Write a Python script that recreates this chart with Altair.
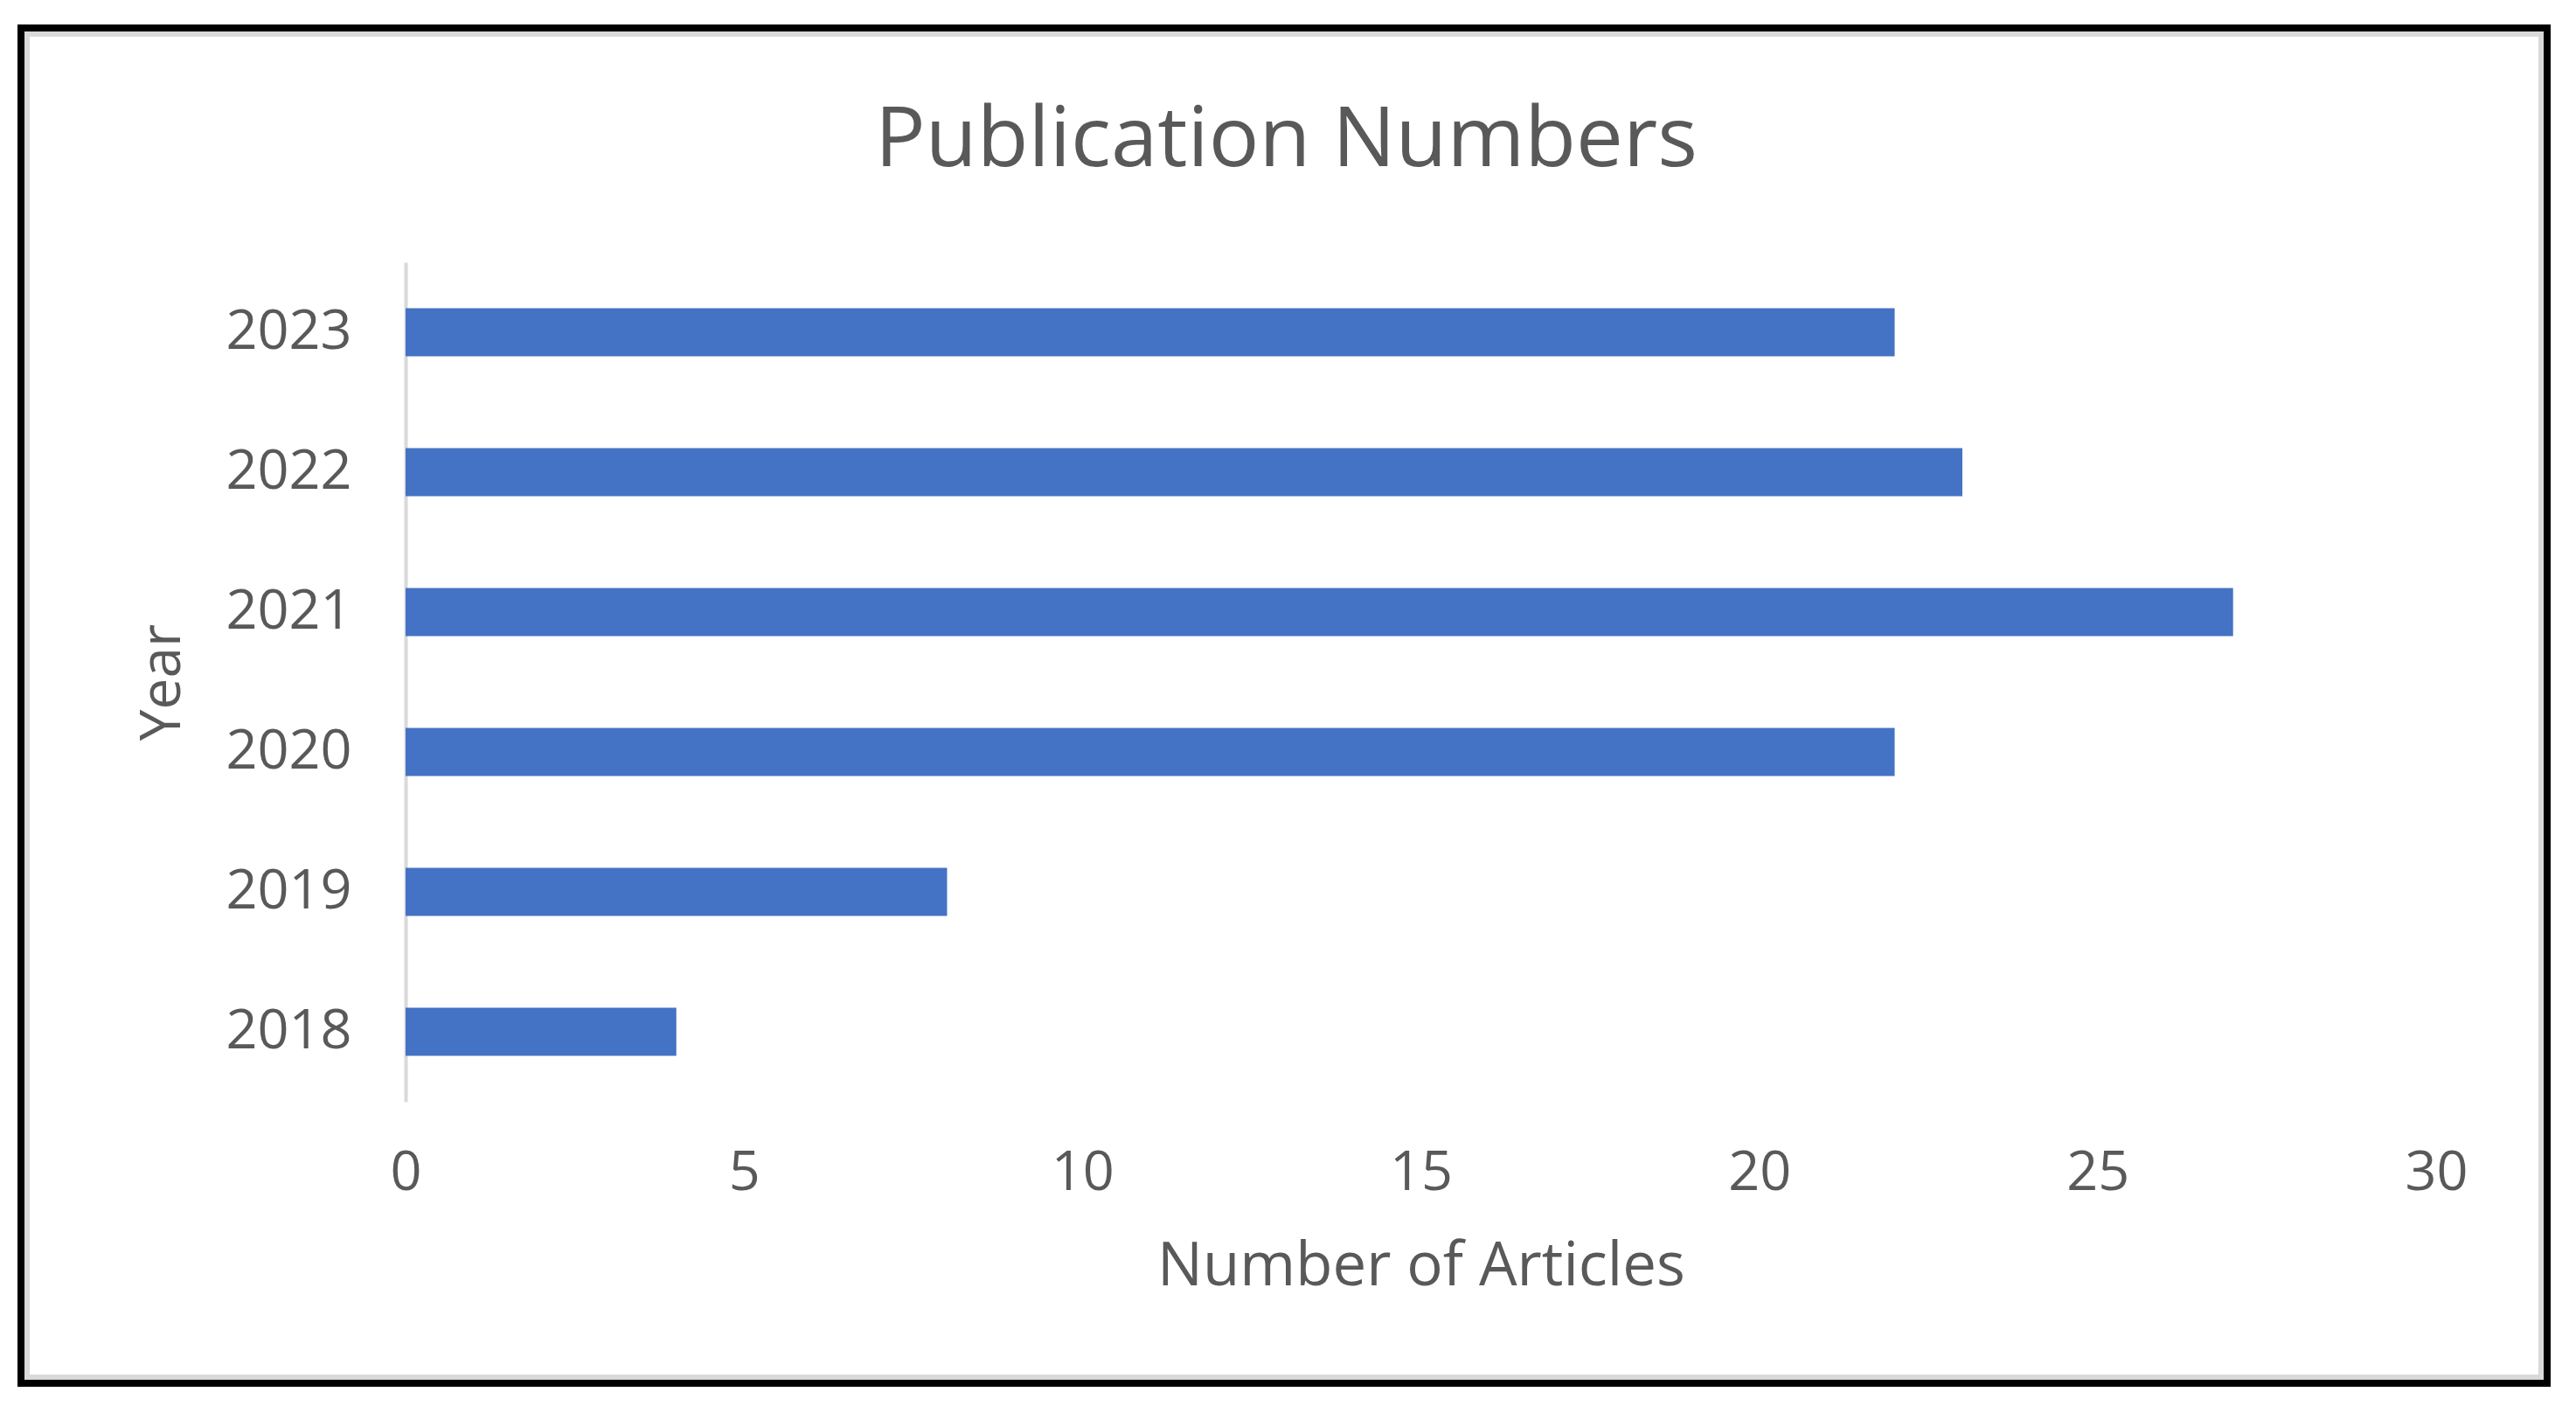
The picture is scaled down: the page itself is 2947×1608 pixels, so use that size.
import altair as alt
import pandas as pd

years = ["2018", "2019", "2020", "2021", "2022", "2023"]
articles = [4, 8, 22, 27, 23, 22]
x_ticks = [0, 5, 10, 15, 20, 25, 30]

df = pd.DataFrame({"Year": years, "Articles": articles})

FONT = "Open Sans"
TXT = "#595959"
W, H = 2323, 960

bars = alt.Chart(df).mark_bar(color="#4472C4").encode(
    x=alt.X("Articles:Q",
            scale=alt.Scale(domain=[0, 30], nice=False),
            axis=alt.Axis(values=x_ticks, title="Number of Articles", grid=False,
                          domain=False, ticks=False, labelFlush=False,
                          labelFontSize=63, labelColor=TXT, labelPadding=50,
                          titleFontSize=69, titleColor=TXT, titleFontWeight="normal",
                          titlePadding=41)),
    y=alt.Y("Year:N", sort=years[::-1],
            scale=alt.Scale(paddingInner=0.656, paddingOuter=0.328),
            axis=alt.Axis(title="Year", ticks=False, domainColor="#d9d9d9",
                          domainWidth=4, labelFontSize=63, labelColor=TXT,
                          labelPadding=62, titleFontSize=64, titleColor=TXT,
                          titleFontWeight="normal", titlePadding=46)),
)

frame = alt.Chart(alt.Data(values=[{"k": 1}])).mark_rect(
    fill=None, stroke="black", strokeWidth=8
).encode(x=alt.value(-440), x2=alt.value(2450), y=alt.value(-268), y2=alt.value(1282))

inner = alt.Chart(alt.Data(values=[{"k": 1}])).mark_rect(
    fill=None, stroke="#d9d9d9", strokeWidth=6
).encode(x=alt.value(-433), x2=alt.value(2443), y=alt.value(-261), y2=alt.value(1275))

chart = alt.layer(inner, frame, bars).properties(
    width=W, height=H,
    title=alt.TitleParams("Publication Numbers", fontSize=96, color=TXT,
                          font=FONT, fontWeight="normal", anchor="middle",
                          dx=-154, offset=-182),
    autosize=alt.AutoSizeParams(type="none"),
    padding={"left": 456, "top": 292, "right": 133, "bottom": 330},
).configure(font=FONT).configure_view(stroke=None)

chart.save("out.html", embed_options={"renderer": "svg", "actions": False})
